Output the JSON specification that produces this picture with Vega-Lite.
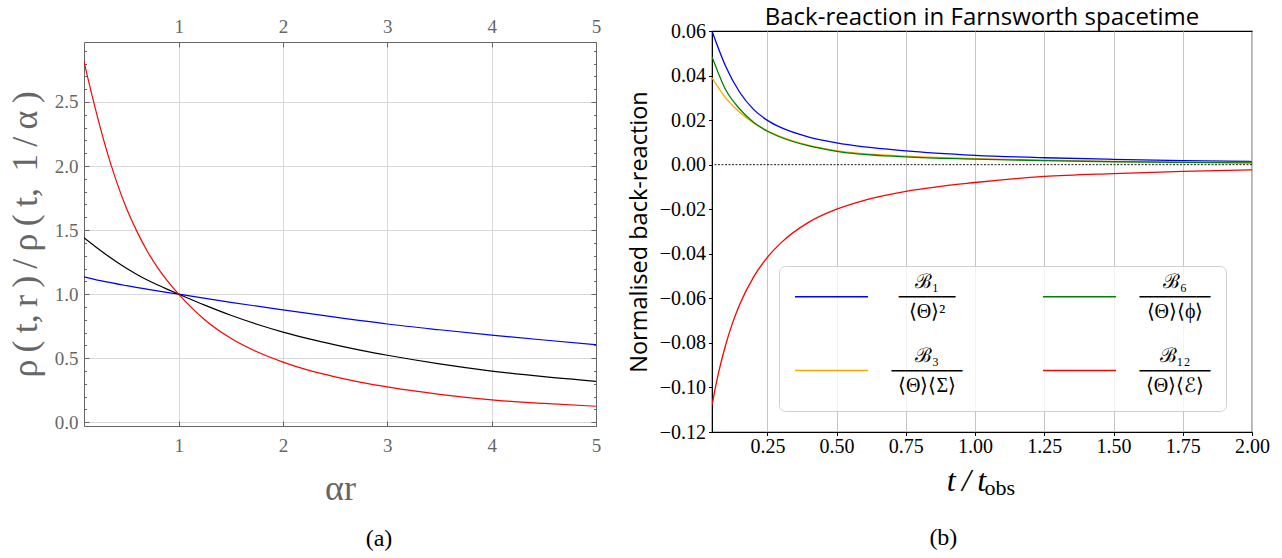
{
  "$schema": "https://vega.github.io/schema/vega-lite/v6.json",
  "background": "white",
  "padding": {"left": 7, "top": 4, "right": 5, "bottom": 0},
  "spacing": 25,
  "config": {"view": {"stroke": null}},
  "resolve": {"scale": {"color": "independent"}, "legend": {"color": "independent"}},
  "datasets": {
    "left": [
      {"s": "blue", "x": 0.093, "v": 1.135}, {"s": "blue", "x": 0.25, "v": 1.105}, {"s": "blue", "x": 0.5, "v": 1.066}, {"s": "blue", "x": 0.75, "v": 1.032}, {"s": "blue", "x": 1.0, "v": 1.0}, {"s": "blue", "x": 1.5, "v": 0.936}, {"s": "blue", "x": 2.0, "v": 0.877}, {"s": "blue", "x": 2.5, "v": 0.82}, {"s": "blue", "x": 3.0, "v": 0.767}, {"s": "blue", "x": 3.5, "v": 0.722}, {"s": "blue", "x": 4.0, "v": 0.68}, {"s": "blue", "x": 4.5, "v": 0.642}, {"s": "blue", "x": 5.0, "v": 0.606},
      {"s": "black", "x": 0.093, "v": 1.44}, {"s": "black", "x": 0.2, "v": 1.372}, {"s": "black", "x": 0.3, "v": 1.312}, {"s": "black", "x": 0.4, "v": 1.255}, {"s": "black", "x": 0.5, "v": 1.202}, {"s": "black", "x": 0.6, "v": 1.154}, {"s": "black", "x": 0.7, "v": 1.11}, {"s": "black", "x": 0.8, "v": 1.071}, {"s": "black", "x": 0.9, "v": 1.035}, {"s": "black", "x": 1.0, "v": 1.0}, {"s": "black", "x": 1.25, "v": 0.914}, {"s": "black", "x": 1.5, "v": 0.835}, {"s": "black", "x": 1.75, "v": 0.765}, {"s": "black", "x": 2.0, "v": 0.704}, {"s": "black", "x": 2.25, "v": 0.651}, {"s": "black", "x": 2.5, "v": 0.604}, {"s": "black", "x": 2.75, "v": 0.561}, {"s": "black", "x": 3.0, "v": 0.523}, {"s": "black", "x": 3.5, "v": 0.456}, {"s": "black", "x": 4.0, "v": 0.4}, {"s": "black", "x": 4.5, "v": 0.356}, {"s": "black", "x": 5.0, "v": 0.32},
      {"s": "red", "x": 0.093, "v": 2.82}, {"s": "red", "x": 0.1, "v": 2.794}, {"s": "red", "x": 0.2, "v": 2.454}, {"s": "red", "x": 0.3, "v": 2.15}, {"s": "red", "x": 0.4, "v": 1.89}, {"s": "red", "x": 0.5, "v": 1.67}, {"s": "red", "x": 0.6, "v": 1.49}, {"s": "red", "x": 0.7, "v": 1.335}, {"s": "red", "x": 0.8, "v": 1.205}, {"s": "red", "x": 0.9, "v": 1.095}, {"s": "red", "x": 1.0, "v": 1.0}, {"s": "red", "x": 1.25, "v": 0.8}, {"s": "red", "x": 1.5, "v": 0.655}, {"s": "red", "x": 1.75, "v": 0.55}, {"s": "red", "x": 2.0, "v": 0.47}, {"s": "red", "x": 2.25, "v": 0.405}, {"s": "red", "x": 2.5, "v": 0.355}, {"s": "red", "x": 2.75, "v": 0.312}, {"s": "red", "x": 3.0, "v": 0.276}, {"s": "red", "x": 3.5, "v": 0.218}, {"s": "red", "x": 4.0, "v": 0.175}, {"s": "red", "x": 4.5, "v": 0.147}, {"s": "red", "x": 5.0, "v": 0.125}
    ],
    "right": [
      {"s": "B1", "t": 0.05, "v": 0.06}, {"s": "B1", "t": 0.1, "v": 0.044}, {"s": "B1", "t": 0.15, "v": 0.0325}, {"s": "B1", "t": 0.2, "v": 0.0248}, {"s": "B1", "t": 0.25, "v": 0.0199}, {"s": "B1", "t": 0.3, "v": 0.0166}, {"s": "B1", "t": 0.4, "v": 0.0124}, {"s": "B1", "t": 0.5, "v": 0.0098}, {"s": "B1", "t": 0.75, "v": 0.0062}, {"s": "B1", "t": 1.0, "v": 0.0042}, {"s": "B1", "t": 1.25, "v": 0.0031}, {"s": "B1", "t": 1.5, "v": 0.0024}, {"s": "B1", "t": 1.75, "v": 0.0018}, {"s": "B1", "t": 2.0, "v": 0.0014},
      {"s": "B3", "t": 0.05, "v": 0.039}, {"s": "B3", "t": 0.1, "v": 0.0299}, {"s": "B3", "t": 0.15, "v": 0.0235}, {"s": "B3", "t": 0.2, "v": 0.0187}, {"s": "B3", "t": 0.25, "v": 0.0152}, {"s": "B3", "t": 0.3, "v": 0.0125}, {"s": "B3", "t": 0.4, "v": 0.0087}, {"s": "B3", "t": 0.5, "v": 0.0063}, {"s": "B3", "t": 0.75, "v": 0.0038}, {"s": "B3", "t": 1.0, "v": 0.0027}, {"s": "B3", "t": 1.25, "v": 0.002}, {"s": "B3", "t": 1.5, "v": 0.0015}, {"s": "B3", "t": 1.75, "v": 0.0012}, {"s": "B3", "t": 2.0, "v": 0.001},
      {"s": "B6", "t": 0.05, "v": 0.0485}, {"s": "B6", "t": 0.1, "v": 0.0335}, {"s": "B6", "t": 0.15, "v": 0.025}, {"s": "B6", "t": 0.2, "v": 0.019}, {"s": "B6", "t": 0.25, "v": 0.015}, {"s": "B6", "t": 0.3, "v": 0.0122}, {"s": "B6", "t": 0.4, "v": 0.0084}, {"s": "B6", "t": 0.5, "v": 0.006}, {"s": "B6", "t": 0.75, "v": 0.0035}, {"s": "B6", "t": 1.0, "v": 0.0025}, {"s": "B6", "t": 1.25, "v": 0.0018}, {"s": "B6", "t": 1.5, "v": 0.0013}, {"s": "B6", "t": 1.75, "v": 0.001}, {"s": "B6", "t": 2.0, "v": 0.0008},
      {"s": "B12", "t": 0.05, "v": -0.108}, {"s": "B12", "t": 0.06, "v": -0.1014}, {"s": "B12", "t": 0.075, "v": -0.0927}, {"s": "B12", "t": 0.1, "v": -0.0806}, {"s": "B12", "t": 0.125, "v": -0.0708}, {"s": "B12", "t": 0.15, "v": -0.0628}, {"s": "B12", "t": 0.2, "v": -0.0505}, {"s": "B12", "t": 0.25, "v": -0.0416}, {"s": "B12", "t": 0.3, "v": -0.035}, {"s": "B12", "t": 0.4, "v": -0.0258}, {"s": "B12", "t": 0.5, "v": -0.02}, {"s": "B12", "t": 0.6, "v": -0.016}, {"s": "B12", "t": 0.75, "v": -0.012}, {"s": "B12", "t": 1.0, "v": -0.008}, {"s": "B12", "t": 1.25, "v": -0.0053}, {"s": "B12", "t": 1.5, "v": -0.004}, {"s": "B12", "t": 1.75, "v": -0.003}, {"s": "B12", "t": 2.0, "v": -0.0023}
    ]
  },
  "hconcat": [
    {
      "title": {"text": "(a)", "orient": "bottom", "anchor": "middle", "frame": "bounds", "dx": 75, "offset": 21, "font": "Liberation Serif", "fontSize": 24, "fontWeight": "normal", "color": "black"},
      "spacing": 12,
      "vconcat": [
        {"width": 1, "height": 1, "data": {"values": []}, "mark": "point", "encoding": {}},
        {
          "width": 512,
          "height": 384,
          "data": {"name": "left"},
          "layer": [
            {
              "mark": {"type": "line", "strokeWidth": 1.2, "interpolate": "monotone", "clip": true},
              "encoding": {
                "x": {"field": "x", "type": "quantitative", "scale": {"domain": [0.093, 5], "nice": false, "zero": false},
                  "axis": {"orient": "bottom", "values": [1, 2, 3, 4, 5], "format": "d", "labelFont": "Liberation Serif", "labelFontSize": 19, "labelColor": "#666", "tickColor": "#666", "tickSize": -5, "labelPadding": 15, "domainColor": "#666", "gridColor": "#d8d8d8", "labelFlush": false,
                    "title": "αr", "titleFont": "Liberation Serif", "titleFontSize": 36, "titleColor": "#666", "titleFontWeight": "normal", "titlePadding": 16}},
                "y": {"field": "v", "type": "quantitative", "scale": {"domain": [-0.029, 2.968], "nice": false, "zero": false},
                  "axis": {"orient": "left", "values": [0, 0.1, 0.2, 0.3, 0.4, 0.5, 0.6, 0.7, 0.8, 0.9, 1, 1.1, 1.2, 1.3, 1.4, 1.5, 1.6, 1.7, 1.8, 1.9, 2, 2.1, 2.2, 2.3, 2.4, 2.5, 2.6, 2.7, 2.8, 2.9],
                    "labelExpr": "round(datum.value*10) % 5 == 0 ? format(datum.value, '.1f') : ''",
                    "labelFont": "Liberation Serif", "labelFontSize": 19, "labelColor": "#666", "tickColor": "#666",
                    "tickSize": {"condition": {"test": "round(datum.value*10) % 5 == 0", "value": -5}, "value": -2.5},
                    "labelPadding": 11, "domainColor": "#666", "gridColor": "#d8d8d8",
                    "gridOpacity": {"condition": {"test": "round(datum.value*10) % 5 == 0", "value": 1}, "value": 0},
                    "labelFlush": false, "labelOverlap": false,
                    "title": "ρ\u2009(\u2009t,\u2009r\u2009)\u2009/\u2009ρ\u2009(\u2009t,\u2009 1\u2009/\u2009α\u2009)", "titleFont": "Liberation Serif", "titleFontSize": 36, "titleColor": "#666", "titleFontWeight": "normal", "titlePadding": 10}},
                "color": {"field": "s", "type": "nominal", "scale": {"domain": ["blue", "black", "red"], "range": ["#0000ff", "#000000", "#ff0000"]}, "legend": null}
              }
            },
            {
              "mark": {"type": "line", "strokeOpacity": 0},
              "encoding": {
                "x": {"field": "x", "type": "quantitative",
                  "axis": {"orient": "top", "values": [1, 2, 3, 4, 5], "format": "d", "labelFont": "Liberation Serif", "labelFontSize": 19, "labelColor": "#666", "tickColor": "#666", "tickSize": -5, "labelPadding": 11, "domainColor": "#666", "grid": false, "labelFlush": false, "title": null}},
                "y": {"field": "v", "type": "quantitative",
                  "axis": {"orient": "right", "values": [0, 0.1, 0.2, 0.3, 0.4, 0.5, 0.6, 0.7, 0.8, 0.9, 1, 1.1, 1.2, 1.3, 1.4, 1.5, 1.6, 1.7, 1.8, 1.9, 2, 2.1, 2.2, 2.3, 2.4, 2.5, 2.6, 2.7, 2.8, 2.9],
                    "labels": false, "tickColor": "#666",
                    "tickSize": {"condition": {"test": "round(datum.value*10) % 5 == 0", "value": -5}, "value": -2.5},
                    "domainColor": "#666", "grid": false, "title": null}},
                "detail": {"field": "s"}
              }
            }
          ],
          "resolve": {"axis": {"x": "independent", "y": "independent"}}
        }
      ]
    },
    {
      "title": {"text": "(b)", "orient": "bottom", "anchor": "middle", "frame": "bounds", "dx": -5, "offset": 26, "font": "Liberation Serif", "fontSize": 24, "fontWeight": "normal", "color": "black"},
      "spacing": 0,
      "vconcat": [
        {"width": 1, "height": 1, "data": {"values": []}, "mark": "point", "encoding": {}},
        {
          "width": 540,
          "height": 401,
          "title": {"text": "Back-reaction in Farnsworth spacetime", "font": "Open Sans", "fontSize": 24, "fontWeight": "normal", "color": "black", "offset": -9},
          "view": {"stroke": "black", "strokeWidth": 1.2},
          "layer": [
            {
              "data": {"values": [{}]},
              "mark": {"type": "rule", "strokeDash": [2, 1.5], "strokeWidth": 0.9, "color": "black"},
              "encoding": {"y": {"datum": 0, "type": "quantitative"}}
            },
            {
              "data": {"name": "right"},
              "mark": {"type": "line", "strokeWidth": 1.3, "interpolate": "monotone", "clip": true},
              "encoding": {
                "x": {"field": "t", "type": "quantitative", "scale": {"domain": [0.05, 2.0], "nice": false, "zero": false},
                  "axis": {"values": [0.25, 0.5, 0.75, 1.0, 1.25, 1.5, 1.75, 2.0], "format": ".2f", "labelFont": "Liberation Serif", "labelFontSize": 20, "labelColor": "black", "tickColor": "black", "tickSize": 3.5, "labelPadding": 1, "domainColor": "black", "gridColor": "#c4c4c4", "labelFlush": false,
                    "title": "t\u2009/\u2009t", "titleFont": "Liberation Serif", "titleFontStyle": "italic", "titleFontSize": 32, "titleColor": "black", "titleFontWeight": "normal", "titleX": 254, "titleY": 58, "titleBaseline": "alphabetic", "titleAlign": "center"}},
                "y": {"field": "v", "type": "quantitative", "scale": {"domain": [-0.12, 0.06], "nice": false, "zero": false},
                  "axis": {"values": [-0.12, -0.1, -0.08, -0.06, -0.04, -0.02, 0, 0.02, 0.04, 0.06], "labelExpr": "replace(format(datum.value, '.2f'), '-', '−')", "labelFont": "Liberation Serif", "labelFontSize": 20, "labelColor": "black", "tickColor": "black", "tickSize": 3.5, "labelPadding": 3, "domainColor": "black", "gridColor": "#c4c4c4", "labelFlush": false, "labelOverlap": false,
                    "title": "Normalised back-reaction", "titleFont": "Open Sans", "titleFontSize": 23.5, "titleColor": "black", "titleFontWeight": "normal", "titlePadding": 8}},
                "color": {"field": "s", "type": "nominal",
                  "scale": {"domain": ["B1", "B3", "B6", "B12"], "range": ["#0000ff", "#ffa500", "#008000", "#ff0000"]},
                  "legend": {"orient": "none", "legendX": 67, "legendY": 262, "columns": 2, "title": null,
                    "symbolType": "M-2.5,0H2.5", "symbolSize": 853, "symbolStrokeWidth": 1.6, "symbolOffset": 22,
                    "labelExpr": "datum.label == 'B1' ? ['ℬ₁', '────', '⟨Θ⟩²'] : datum.label == 'B3' ? ['ℬ₃', '─────', '⟨Θ⟩⟨Σ⟩'] : datum.label == 'B6' ? ['ℬ₆', '─────', '⟨Θ⟩⟨ϕ⟩'] : ['ℬ₁₂', '─────', '⟨Θ⟩⟨ℰ⟩']",
                    "labelFont": "Liberation Serif", "labelFontSize": 20, "labelColor": "black", "labelAlign": "center", "labelOffset": 80, "labelLimit": 0,
                    "fillColor": "rgba(255,255,255,0.8)", "strokeColor": "#d0d0d0", "cornerRadius": 6, "padding": 15, "rowPadding": 23, "columnPadding": 76,
                    "encode": {"labels": {"update": {"lineHeight": {"value": 15}, "dy": {"value": -15}}}}}}
              }
            },
            {
              "data": {"values": [{}]},
              "mark": {"type": "text", "text": "obs", "font": "Liberation Serif", "fontSize": 22, "align": "left", "baseline": "alphabetic", "color": "black"},
              "encoding": {"x": {"datum": 1.034, "type": "quantitative"}, "y": {"datum": -0.1483, "type": "quantitative"}}
            }
          ]
        }
      ]
    }
  ]
}
